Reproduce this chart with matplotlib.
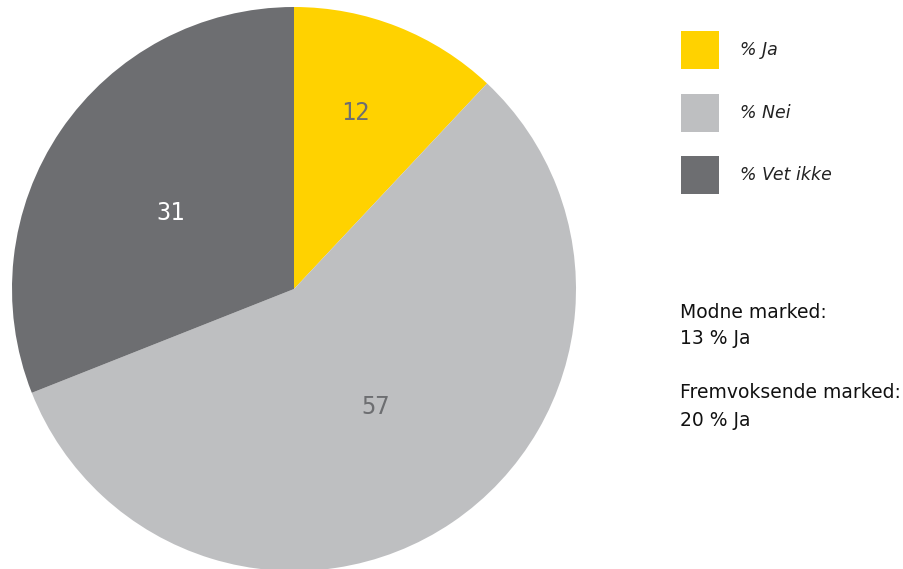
import matplotlib
matplotlib.use("Agg")
import matplotlib.pyplot as plt
from matplotlib.patches import Rectangle
import numpy as np

categories = ["% Ja", "% Nei", "% Vet ikke"]
values = [12, 57, 31]
colors = ["#FFD200", "#BEBFC1", "#6D6E71"]
label_colors = ["#6D6E71", "#6D6E71", "#FFFFFF"]
label_radius = [0.66, 0.51, 0.515]
label_angle_shift = [2.5, 0.5, 2.5]
notes = [("Modne marked:", "13 % Ja"), ("Fremvoksende marked:", "20 % Ja")]

W, H = 904, 569
fig = plt.figure(figsize=(W / 100, H / 100), dpi=100)
fig.patch.set_facecolor("white")

cx, cy, R = 294, 289, 282
ax = fig.add_axes([(cx - R) / W, (H - cy - R) / H, 2 * R / W, 2 * R / H])
ax.axis("off")

wedges, _ = ax.pie(values, colors=colors, startangle=90, counterclock=False,
                   radius=1, wedgeprops=dict(linewidth=0))
ax.set_xlim(-1, 1)
ax.set_ylim(-1, 1)
ax.set_aspect("equal")
for w, v, c, r, s in zip(wedges, values, label_colors, label_radius, label_angle_shift):
    ang = np.deg2rad((w.theta1 + w.theta2) / 2 + s)
    ax.text(r * np.cos(ang), r * np.sin(ang), str(v), ha="center", va="center",
            fontsize=17, color=c, family="DejaVu Sans Mono")

# legend
for i, (cat, col) in enumerate(zip(categories, colors)):
    y_top = 31 + i * 62.5
    fig.patches.append(Rectangle((681 / W, (H - y_top - 38) / H), 38 / W, 38 / H,
                                 transform=fig.transFigure, facecolor=col,
                                 edgecolor="none"))
    fig.text(740 / W, (H - y_top - 19) / H, cat, ha="left", va="center",
             fontsize=12.5, style="italic", color="#222222", family="DejaVu Sans")

# notes
for j, (title, val) in enumerate(notes):
    y0 = 312 + j * 81
    fig.text(680 / W, (H - y0) / H, title, ha="left", va="center",
             fontsize=13.5, color="#111111", family="DejaVu Sans")
    fig.text(680 / W, (H - y0 - 27) / H, val, ha="left", va="center",
             fontsize=13.5, color="#111111", family="DejaVu Sans")

fig.savefig("out.png", dpi=100, facecolor="white")
